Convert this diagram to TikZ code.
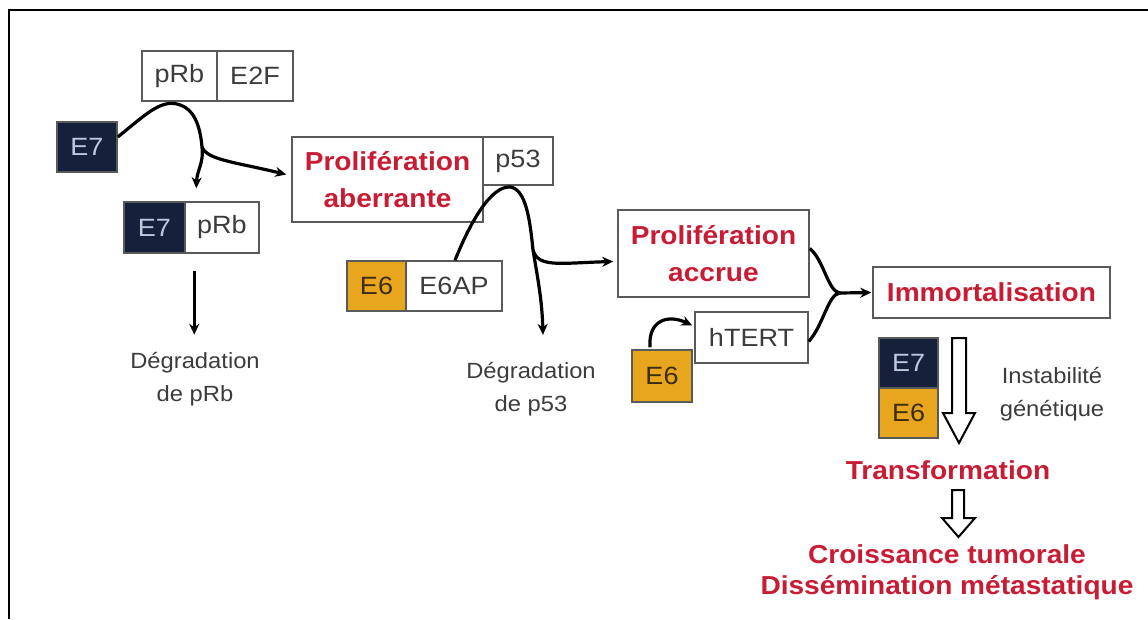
\documentclass[tikz,border=0pt]{standalone}
\usepackage{fontspec}
\setmainfont[FakeStretch=1.08]{Liberation Sans}
\usetikzlibrary{arrows.meta,calc}
\definecolor{navy}{RGB}{22,32,58}
\definecolor{navytxt}{RGB}{190,200,220}
\definecolor{gold}{RGB}{232,165,30}
\definecolor{goldtxt}{RGB}{60,45,20}
\definecolor{redtxt}{RGB}{200,28,52}
\definecolor{graytxt}{RGB}{60,60,60}
\definecolor{boxline}{RGB}{90,90,90}
\tikzset{
  bx/.style={draw=boxline,line width=1.5pt,fill=white,inner sep=0pt,text=graytxt,
    font=\fontsize{25}{29}\selectfont},
  navybox/.style={bx,fill=navy,text=navytxt},
  goldbox/.style={bx,fill=gold,text=goldtxt},
  redbox/.style={draw=boxline,line width=1.5pt,fill=white,inner sep=0pt,text=redtxt,
    align=center,font=\fontsize{26}{37}\selectfont\bfseries},
  redtext/.style={text=redtxt,align=center,inner sep=0pt,font=\fontsize{26}{31}\selectfont\bfseries},
  plain/.style={text=graytxt,align=center,inner sep=0pt,font=\fontsize{22}{33}\selectfont},
  arr/.style={line width=3.2pt,-{Stealth[length=11pt,width=10pt]}},
  ln/.style={line width=3.2pt},
  hollow/.style={draw=black,line width=2pt,fill=white,line join=miter}
}
\begin{document}
\begin{tikzpicture}[x=1pt,y=-1pt]
\useasboundingbox (0,0) rectangle (1148,619);
\fill[white] (0,0) rectangle (1148,619);
% frame
\draw[line width=2.5pt] (1148,10) -- (9,10) -- (9,619);

% first group
\node[bx,minimum width=75,minimum height=50] (pRb1) at (179.5,76) {pRb};
\node[bx,minimum width=76,minimum height=50] (E2F) at (255,76) {E2F};
\node[navybox,minimum width=60,minimum height=50] (E7a) at (87,147) {E7};
\node[navybox,minimum width=61,minimum height=51] (E7b) at (154.5,227.5) {E7};
\node[bx,minimum width=74,minimum height=51] (pRb2) at (222,227.5) {pRb};
\node[plain] (degRb) at (195,379) {Dégradation\\de pRb};

% second group
\node[redbox,minimum width=191,minimum height=85] (ProlAb) at (387.5,179.5) {Prolifération\\aberrante};
\node[bx,minimum width=70,minimum height=48] (p53) at (518,161) {p53};
\node[goldbox,minimum width=59,minimum height=50] (E6a) at (376.5,286) {E6};
\node[bx,minimum width=96,minimum height=50] (E6AP) at (454,286) {E6AP};
\node[plain] (degp53) at (531,389) {Dégradation\\de p53};

% third group
\node[redbox,minimum width=191,minimum height=87] (ProlAcc) at (713.5,253.5) {Prolifération\\accrue};
\node[bx,minimum width=113,minimum height=51] (hTERT) at (751.5,337.5) {hTERT};
\node[goldbox,minimum width=60,minimum height=52] (E6b) at (662,376) {E6};

% right column
\node[redbox,minimum width=237,minimum height=51] (Immo) at (991.5,292.5) {Immortalisation};
\node[navybox,minimum width=59,minimum height=50] (E7c) at (908.5,363) {E7};
\node[goldbox,minimum width=59,minimum height=50] (E6c) at (908.5,413) {E6};
\node[plain] (instab) at (1052,394) {Instabilité\\génétique};
\node[redtext] (Transf) at (948,470) {Transformation};
\node[redtext] (Croiss) at (947,572) {Croissance tumorale\\Dissémination métastatique};

% curve 1
\coordinate (b1) at (202,147);
\draw[ln] ([yshift=10]E7a.east) .. controls (145,115) and (160,100) .. (177,104)
  .. controls (194,108) and (200,125) .. (b1);
\draw[arr] (b1) .. controls (204,163) and (197,170) .. ([xshift=12,yshift=13]pRb2.north west);
\draw[arr] (b1) .. controls (207,160) and (235,162) .. ([xshift=-5,yshift=5]ProlAb.west);

% arrow down to degradation pRb
\draw[arr] ($(pRb2.south west)+(10,17)$) -- ($(pRb2.south west)+(10,81)$);

% curve 2
\coordinate (b2) at (533,250);
\draw[ln] ([xshift=1]E6AP.north) .. controls (472,218) and (492,186) .. (510,187)
  .. controls (526,189) and (530,220) .. (b2);
\draw[arr] (b2) .. controls (538,268) and (560,263) .. ([xshift=-4,yshift=-8]ProlAcc.west);
\draw[arr] (b2) .. controls (538,280) and (542,300) .. ($(degp53.north)+(12,-27)$);

% curve 3
\draw[arr] ([xshift=-12,yshift=2]E6b.north) .. controls (648,320) and (668,314) .. ([xshift=-2,yshift=12]hTERT.west);

% merge into immortalisation
\coordinate (m) at (840,293);
\draw[ln] ([yshift=5]ProlAcc.east) .. controls (824,260) and (828,292) .. (m);
\draw[ln] ([yshift=-4]hTERT.east) .. controls (824,324) and (828,294) .. (m);
\draw[arr] (m) -- ([xshift=-1]Immo.west);

% hollow arrows
\draw[hollow] (952,338) -- (966,338) -- (966,413) -- (975,413) -- (959,443)
  -- (943,413) -- (952,413) -- cycle;
\draw[hollow] (952,490) -- (964,490) -- (964,518) -- (975,518) -- (958.5,537)
  -- (942,518) -- (952,518) -- cycle;
\end{tikzpicture}
\end{document}
